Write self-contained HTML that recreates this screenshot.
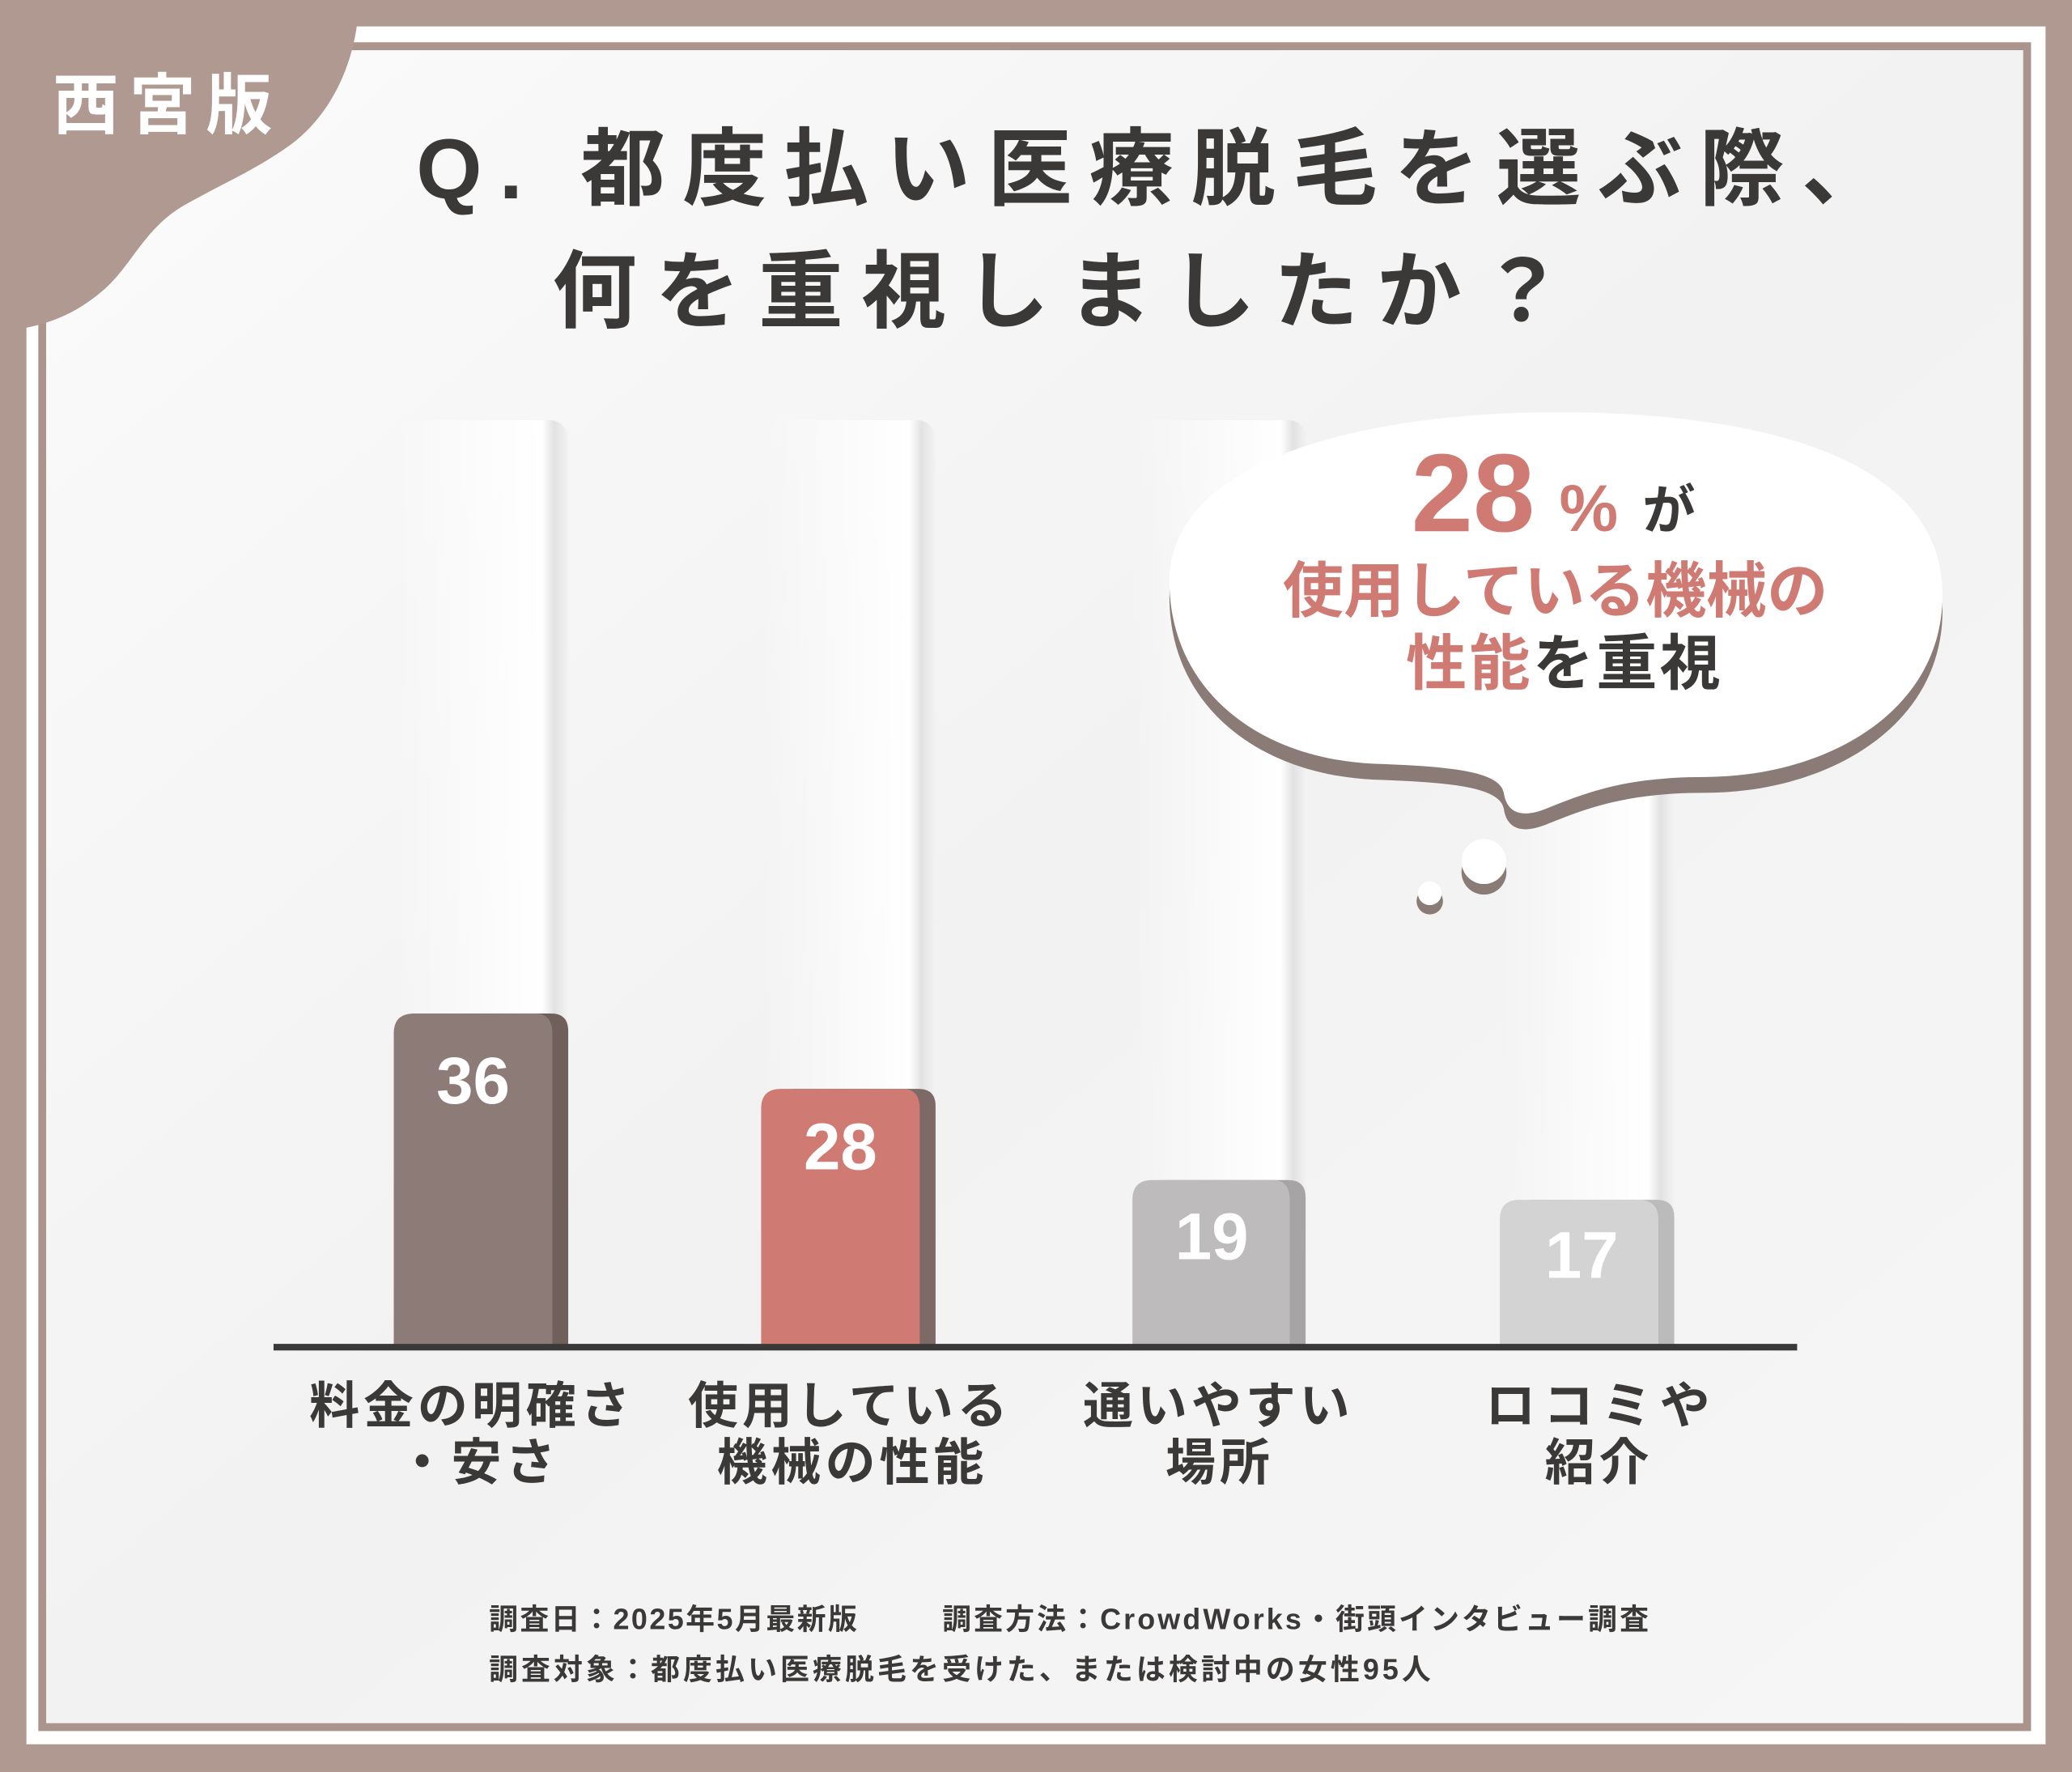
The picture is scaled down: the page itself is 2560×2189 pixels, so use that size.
<!DOCTYPE html>
<html><head><meta charset="utf-8"><style>
html,body{margin:0;padding:0;background:#b09990;}
svg{display:block;}
text{font-family:"Liberation Sans","Noto Sans CJK JP",sans-serif;font-weight:bold;}
</style></head><body>
<svg width="2560" height="2189" viewBox="0 0 1568 1341" preserveAspectRatio="none" xmlns="http://www.w3.org/2000/svg">
<defs>
<linearGradient id="bg" x1="0" y1="0" x2="1" y2="1">
<stop offset="0" stop-color="#fbfbfb"/><stop offset="0.5" stop-color="#f2f2f2"/><stop offset="1" stop-color="#f6f6f6"/>
</linearGradient>
<linearGradient id="trk" x1="0" y1="0" x2="1" y2="0">
<stop offset="0" stop-color="#ffffff" stop-opacity="0"/><stop offset="0.85" stop-color="#ffffff"/><stop offset="0.92" stop-color="#e2e2e2"/><stop offset="1" stop-color="#f3f3f3"/>
</linearGradient>
</defs>
<rect x="0" y="0" width="1568" height="1341" fill="#b09990"/>
<rect x="20" y="20" width="1528" height="1300" fill="#ffffff"/>
<rect x="32" y="35" width="1502" height="1272" fill="none" stroke="#ab948b" stroke-width="6"/>
<rect x="35" y="38" width="1496" height="1266" fill="url(#bg)"/>
<!-- tracks -->
<rect x="298" y="318" width="132" height="700" rx="14" fill="url(#trk)"/>
<rect x="576" y="318" width="132" height="700" rx="14" fill="url(#trk)"/>
<rect x="857" y="318" width="132" height="700" rx="14" fill="url(#trk)"/>
<rect x="1135" y="318" width="132" height="700" rx="14" fill="url(#trk)"/>
<!-- corner blob -->
<path d="M0 0 L272 0 L270 20 C264 60 245 90 222 108 C195 128 170 138 140 155 C110 172 100 200 80 218 C60 236 40 244 20 248 L0 252 Z" fill="#b09990"/>
<text x="40" y="97" font-size="50" fill="#ffffff" letter-spacing="8">西宮版</text>
<!-- title -->
<text x="315" y="150" font-size="64" fill="#3b3838" letter-spacing="13">Q. 都度払い医療脱毛を選ぶ際、</text>
<text x="418" y="243" font-size="64" fill="#3b3838" letter-spacing="14">何を重視しましたか？</text>
<!-- bars -->
<g>
<path d="M310 1018 L310 780 Q310 767 323 767 L417 767 Q430 767 430 780 L430 1018 Z" fill="#6f605c"/>
<path d="M298 1018 L298 782 Q298 767 313 767 L405 767 Q418 767 418 782 L418 1018 Z" fill="#8c7b77"/>
<text x="358" y="835" font-size="50" fill="#fff" text-anchor="middle" font-weight="normal">36</text>
<path d="M588 1018 L588 837 Q588 824 601 824 L695 824 Q708 824 708 837 L708 1018 Z" fill="#7d6a66"/>
<path d="M576 1018 L576 839 Q576 824 591 824 L683 824 Q696 824 696 839 L696 1018 Z" fill="#d07a74"/>
<text x="636" y="885" font-size="50" fill="#fff" text-anchor="middle" font-weight="normal">28</text>
<path d="M869 1018 L869 906 Q869 893 882 893 L975 893 Q988 893 988 906 L988 1018 Z" fill="#a6a4a4"/>
<path d="M857 1018 L857 908 Q857 893 872 893 L963 893 Q976 893 976 908 L976 1018 Z" fill="#bdbbbb"/>
<text x="917" y="953" font-size="50" fill="#fff" text-anchor="middle" font-weight="normal">19</text>
<path d="M1147 1018 L1147 921 Q1147 908 1160 908 L1254 908 Q1267 908 1267 921 L1267 1018 Z" fill="#bcbbbb"/>
<path d="M1135 1018 L1135 923 Q1135 908 1150 908 L1240 908 Q1255 908 1255 923 L1255 1018 Z" fill="#d4d3d3"/>
<text x="1197" y="967" font-size="50" fill="#fff" text-anchor="middle" font-weight="normal">17</text>
</g>
<rect x="207" y="1017" width="1153" height="5" fill="#3b3838"/>
<!-- labels -->
<g font-size="38" fill="#3b3838" text-anchor="middle">
<text x="357" y="1077" letter-spacing="3">料金の明確さ</text>
<text x="362" y="1120" letter-spacing="3">・安さ</text>
<text x="643" y="1077" letter-spacing="3">使用している</text>
<text x="645" y="1120" letter-spacing="3">機械の性能</text>
<text x="922" y="1077" letter-spacing="3">通いやすい</text>
<text x="923" y="1120" letter-spacing="3">場所</text>
<text x="1212" y="1077" letter-spacing="6">ロコミや</text>
<text x="1210" y="1120" letter-spacing="3">紹介</text>
</g>
<!-- footer -->
<text x="370" y="1233" font-size="22" fill="#3b3838" letter-spacing="1.5">調査日：2025年5月最新版</text>
<text x="713" y="1233" font-size="22" fill="#3b3838" letter-spacing="1.9">調査方法：CrowdWorks・街頭インタビュー調査</text>
<text x="370" y="1271" font-size="22" fill="#3b3838" letter-spacing="2.5">調査対象：都度払い医療脱毛を受けた、または検討中の女性95人</text>
<!-- bubble -->
<g transform="translate(0,12)">
<path d="M885 440 C885 345 1040 312 1178 312 C1330 312 1470 345 1470 450 C1470 540 1380 588 1290 588 C1230 588 1200 600 1170 612 C1150 620 1140 614 1138 600 C1135 584 1100 580 1040 578 C950 574 885 520 885 440 Z" fill="#8a7b76"/>
</g>
<circle cx="1123" cy="660" r="17" fill="#8a7b76"/>
<circle cx="1082" cy="682" r="10" fill="#8a7b76"/>
<path d="M885 440 C885 345 1040 312 1178 312 C1330 312 1470 345 1470 450 C1470 540 1380 588 1290 588 C1230 588 1200 600 1170 612 C1150 620 1140 614 1138 600 C1135 584 1100 580 1040 578 C950 574 885 520 885 440 Z" fill="#ffffff"/>
<circle cx="1123" cy="652" r="17" fill="#ffffff"/>
<circle cx="1082" cy="676" r="9" fill="#ffffff"/>
<text x="1068" y="402" font-size="84" fill="#d07a74">28</text>
<text x="1180" y="402" font-size="50" fill="#d07a74">%</text>
<text x="1243" y="400" font-size="40" fill="#3b3838">が</text>
<text x="1177" y="463" font-size="46" fill="#d07a74" text-anchor="middle" letter-spacing="0">使用している機械の</text>
<text x="1064" y="518" font-size="46" fill="#d07a74" letter-spacing="2">性能</text>
<text x="1160" y="518" font-size="46" fill="#3b3838" letter-spacing="2">を重視</text>
</svg>
</body></html>
